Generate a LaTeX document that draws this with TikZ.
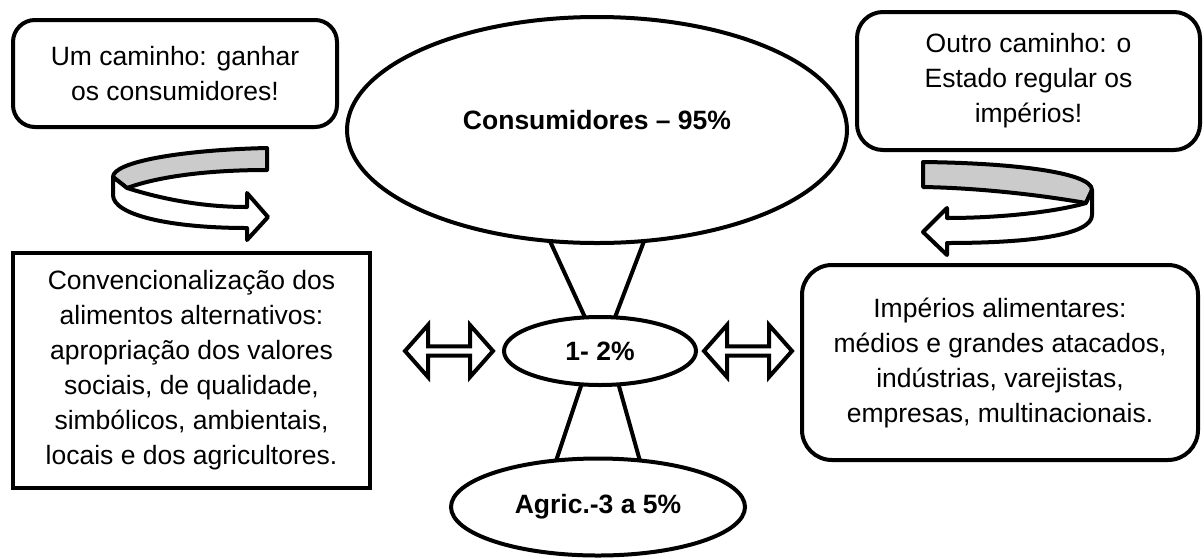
\documentclass[tikz,border=0pt]{standalone}
\usepackage{fontspec}
\setmainfont{Liberation Sans}
\usepackage{tikz}
\usetikzlibrary{shapes.geometric,shapes.arrows}
\definecolor{Fita}{HTML}{CBCBCB}
\tikzset{
  caixa/.style={draw,line width=4pt,align=center,inner sep=0pt,outer sep=0pt,font=\fontsize{26.5}{35}\selectfont},
  caixar/.style={caixa,rounded corners=22pt},
  elipse/.style={draw,ellipse,line width=4pt,inner sep=0pt,outer sep=0pt,font=\bfseries\fontsize{26.5}{35}\selectfont},
  setadupla/.style={draw,double arrow,line width=4pt,minimum height=88pt,minimum width=52pt,double arrow head extend=9pt,double arrow tip angle=97,inner sep=0pt,outer sep=0pt},
  fita/.style={draw,line width=4pt,line join=round},
  ligacao/.style={line width=4pt}
}
\begin{document}
\begin{tikzpicture}[x=1pt,y=-1pt]
\useasboundingbox (0,0) rectangle (1204,558);
\node[caixar,minimum width=324pt,minimum height=107pt] (umcaminho) at (175,73.5) {Um caminho: ganhar\\os consumidores!};
\node[caixar,minimum width=343pt,minimum height=138pt,rounded corners=26pt] (outrocaminho) at (1028.5,81) {Outro caminho: o\\Estado regular os\\impérios!};
\node[caixa,minimum width=357pt,minimum height=235pt] (convenc) at (191.5,370.5) {Convencionalização dos\\alimentos alternativos:\\apropriação dos valores\\sociais, de qualidade,\\simbólicos, ambientais,\\locais e dos agricultores.};
\node[caixar,minimum width=396pt,minimum height=195pt,rounded corners=30pt] (imperios) at (1000,362.5) {Impérios alimentares:\\médios e grandes atacados,\\indústrias, varejistas,\\empresas, multinacionais.};
\node[elipse,minimum width=500pt,minimum height=226pt,text depth=20pt] (consum) at (597,130) {Consumidores – 95\%};
\node[elipse,minimum width=192pt,minimum height=68pt] (meio) at (600,351) {1- 2\%};
\node[elipse,minimum width=294pt,minimum height=97pt] (agric) at (598,507) {Agric.-3 a 5\%};
\node[setadupla] (setaesq) at (449,351) {};
\node[setadupla] (setadir) at (748,351) {};
\draw[ligacao] (consum.247) -- (meio.114);
\draw[ligacao] (consum.293) -- (meio.66);
\draw[ligacao] (meio.241) -- (agric.132);
\draw[ligacao] (meio.299) -- (agric.48);
\filldraw[fita,fill=Fita] (267,148) .. controls (180,150) and (113,162) .. (113,177) -- (127,188) .. controls (160,176) and (210,170) .. (267,170) -- cycle;
\filldraw[fita,fill=white] (113,177) -- (127,188) .. controls (165,200) and (205,207) .. (247,207) -- (247,193) -- (268,217) -- (247,240) -- (247,228) .. controls (170,228) and (113,215) .. (113,195) -- cycle;
\filldraw[fita,fill=Fita] (923,162) .. controls (1010,163) and (1092,172) .. (1092,190) -- (1086,203) .. controls (1040,195) and (980,188) .. (923,187) -- cycle;
\filldraw[fita,fill=white] (1092,190) -- (1092,215) .. controls (1092,235) and (1030,243) .. (947,243) -- (947,255) -- (923,232) -- (947,208) -- (947,218) .. controls (1000,218) and (1055,212) .. (1086,203) -- cycle;
\end{tikzpicture}
\end{document}
